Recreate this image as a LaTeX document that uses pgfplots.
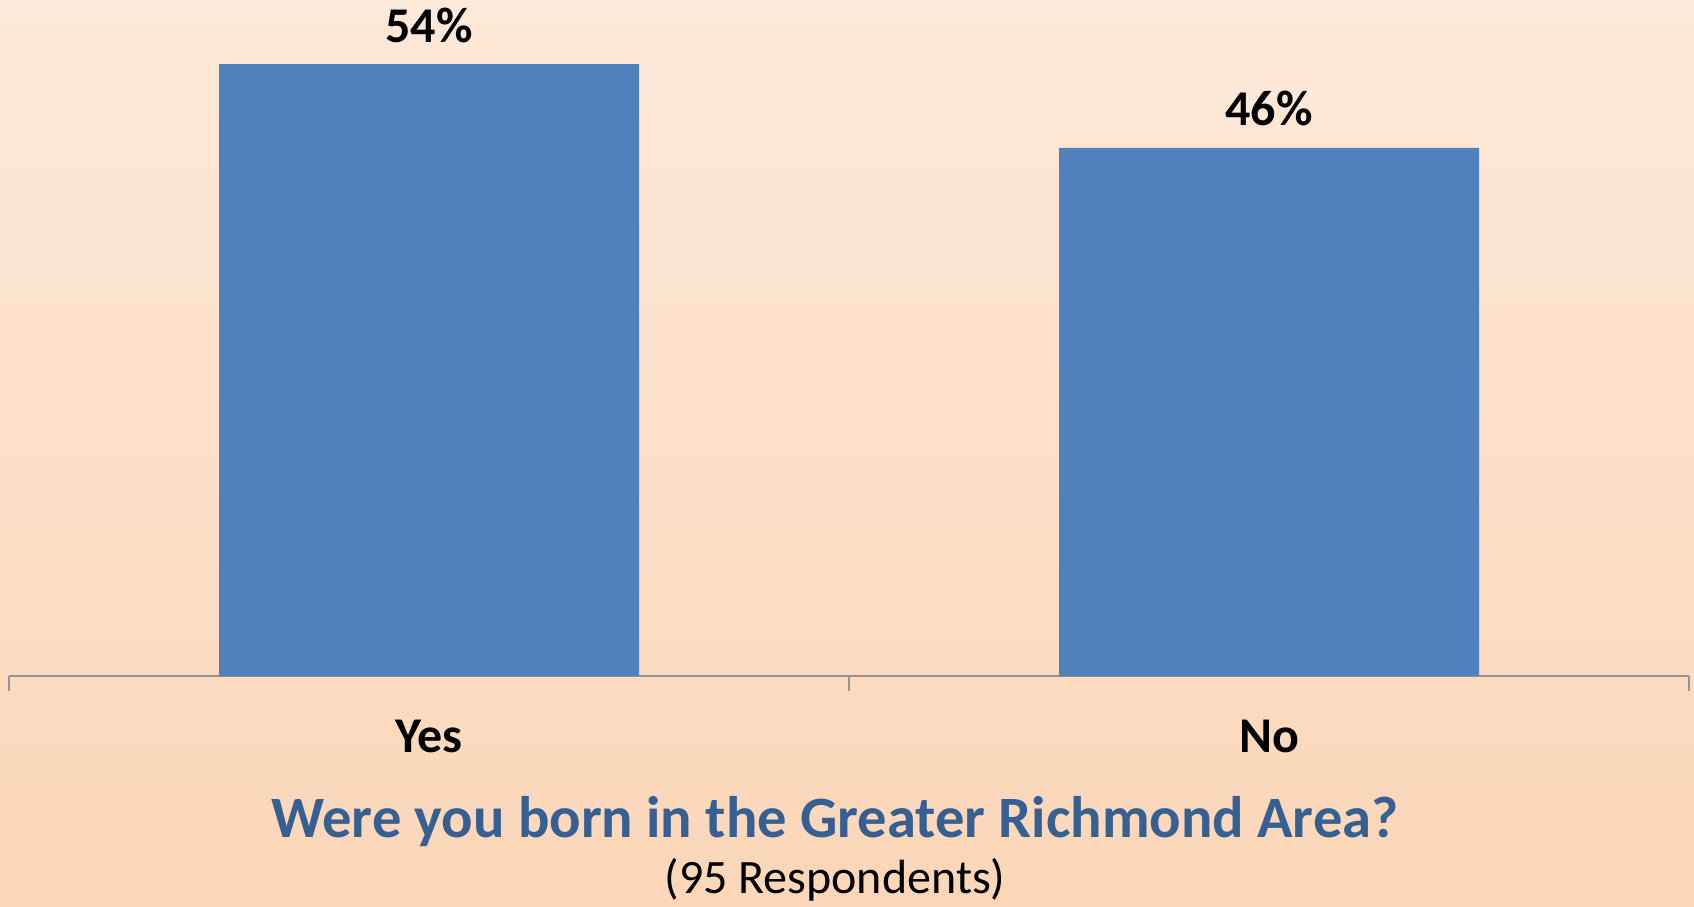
\documentclass[border=0pt]{standalone}
\usepackage{pgfplots}
\pgfplotsset{compat=1.18}
\usepackage{fontspec}
\setmainfont{Carlito}
\definecolor{bgtop}{HTML}{FDE9D9}
\definecolor{bgbot}{HTML}{FBD6B8}
\definecolor{barblue}{HTML}{4F81BD}
\definecolor{titleblue}{HTML}{376092}
\begin{document}
\begin{tikzpicture}
\useasboundingbox (0,0) rectangle (847pt,453pt);
\shade[top color=bgtop, bottom color=bgbot] (0,0) rectangle (847pt,453pt);
\begin{axis}[
  at={(4.5pt,115pt)}, anchor=south west,
  scale only axis, width=840pt, height=338pt,
  xmin=-0.5, xmax=1.5, ymin=0, ymax=59.3,
  axis x line*=bottom, axis y line=none,
  axis line style={-, gray!85, line width=0.8pt},
  xtick={0,1}, xticklabels={Yes,No},
  major x tick style={draw=none},
  minor xtick={-0.5,0.5,1.5},
  tick align=outside,
  minor tick length=7.5pt,
  minor x tick style={gray!85, line width=0.8pt},
  xticklabel style={font=\fontsize{25}{30}\selectfont\bfseries, yshift=-14pt},
  ybar, bar width=210pt,
  /pgf/number format/assume math mode=true,
  nodes near coords={\pgfmathprintnumber[fixed,precision=0,assume math mode=true]{\pgfplotspointmeta}\%},
  nodes near coords style={font=\fontsize{25}{30}\selectfont\bfseries, anchor=center, yshift=19.5pt, text=black},
  clip=false,
]
\addplot[fill=barblue, draw=none] coordinates {(0,53.68) (1,46.32)};
\end{axis}
\node[font=\fontsize{29.3}{35}\selectfont\bfseries, text=titleblue] at (417.5pt,42pt) {Were you born in the Greater Richmond Area?};
\node[font=\fontsize{24}{29}\selectfont] at (417.5pt,13pt) {(95 Respondents)};
\end{tikzpicture}
\end{document}
